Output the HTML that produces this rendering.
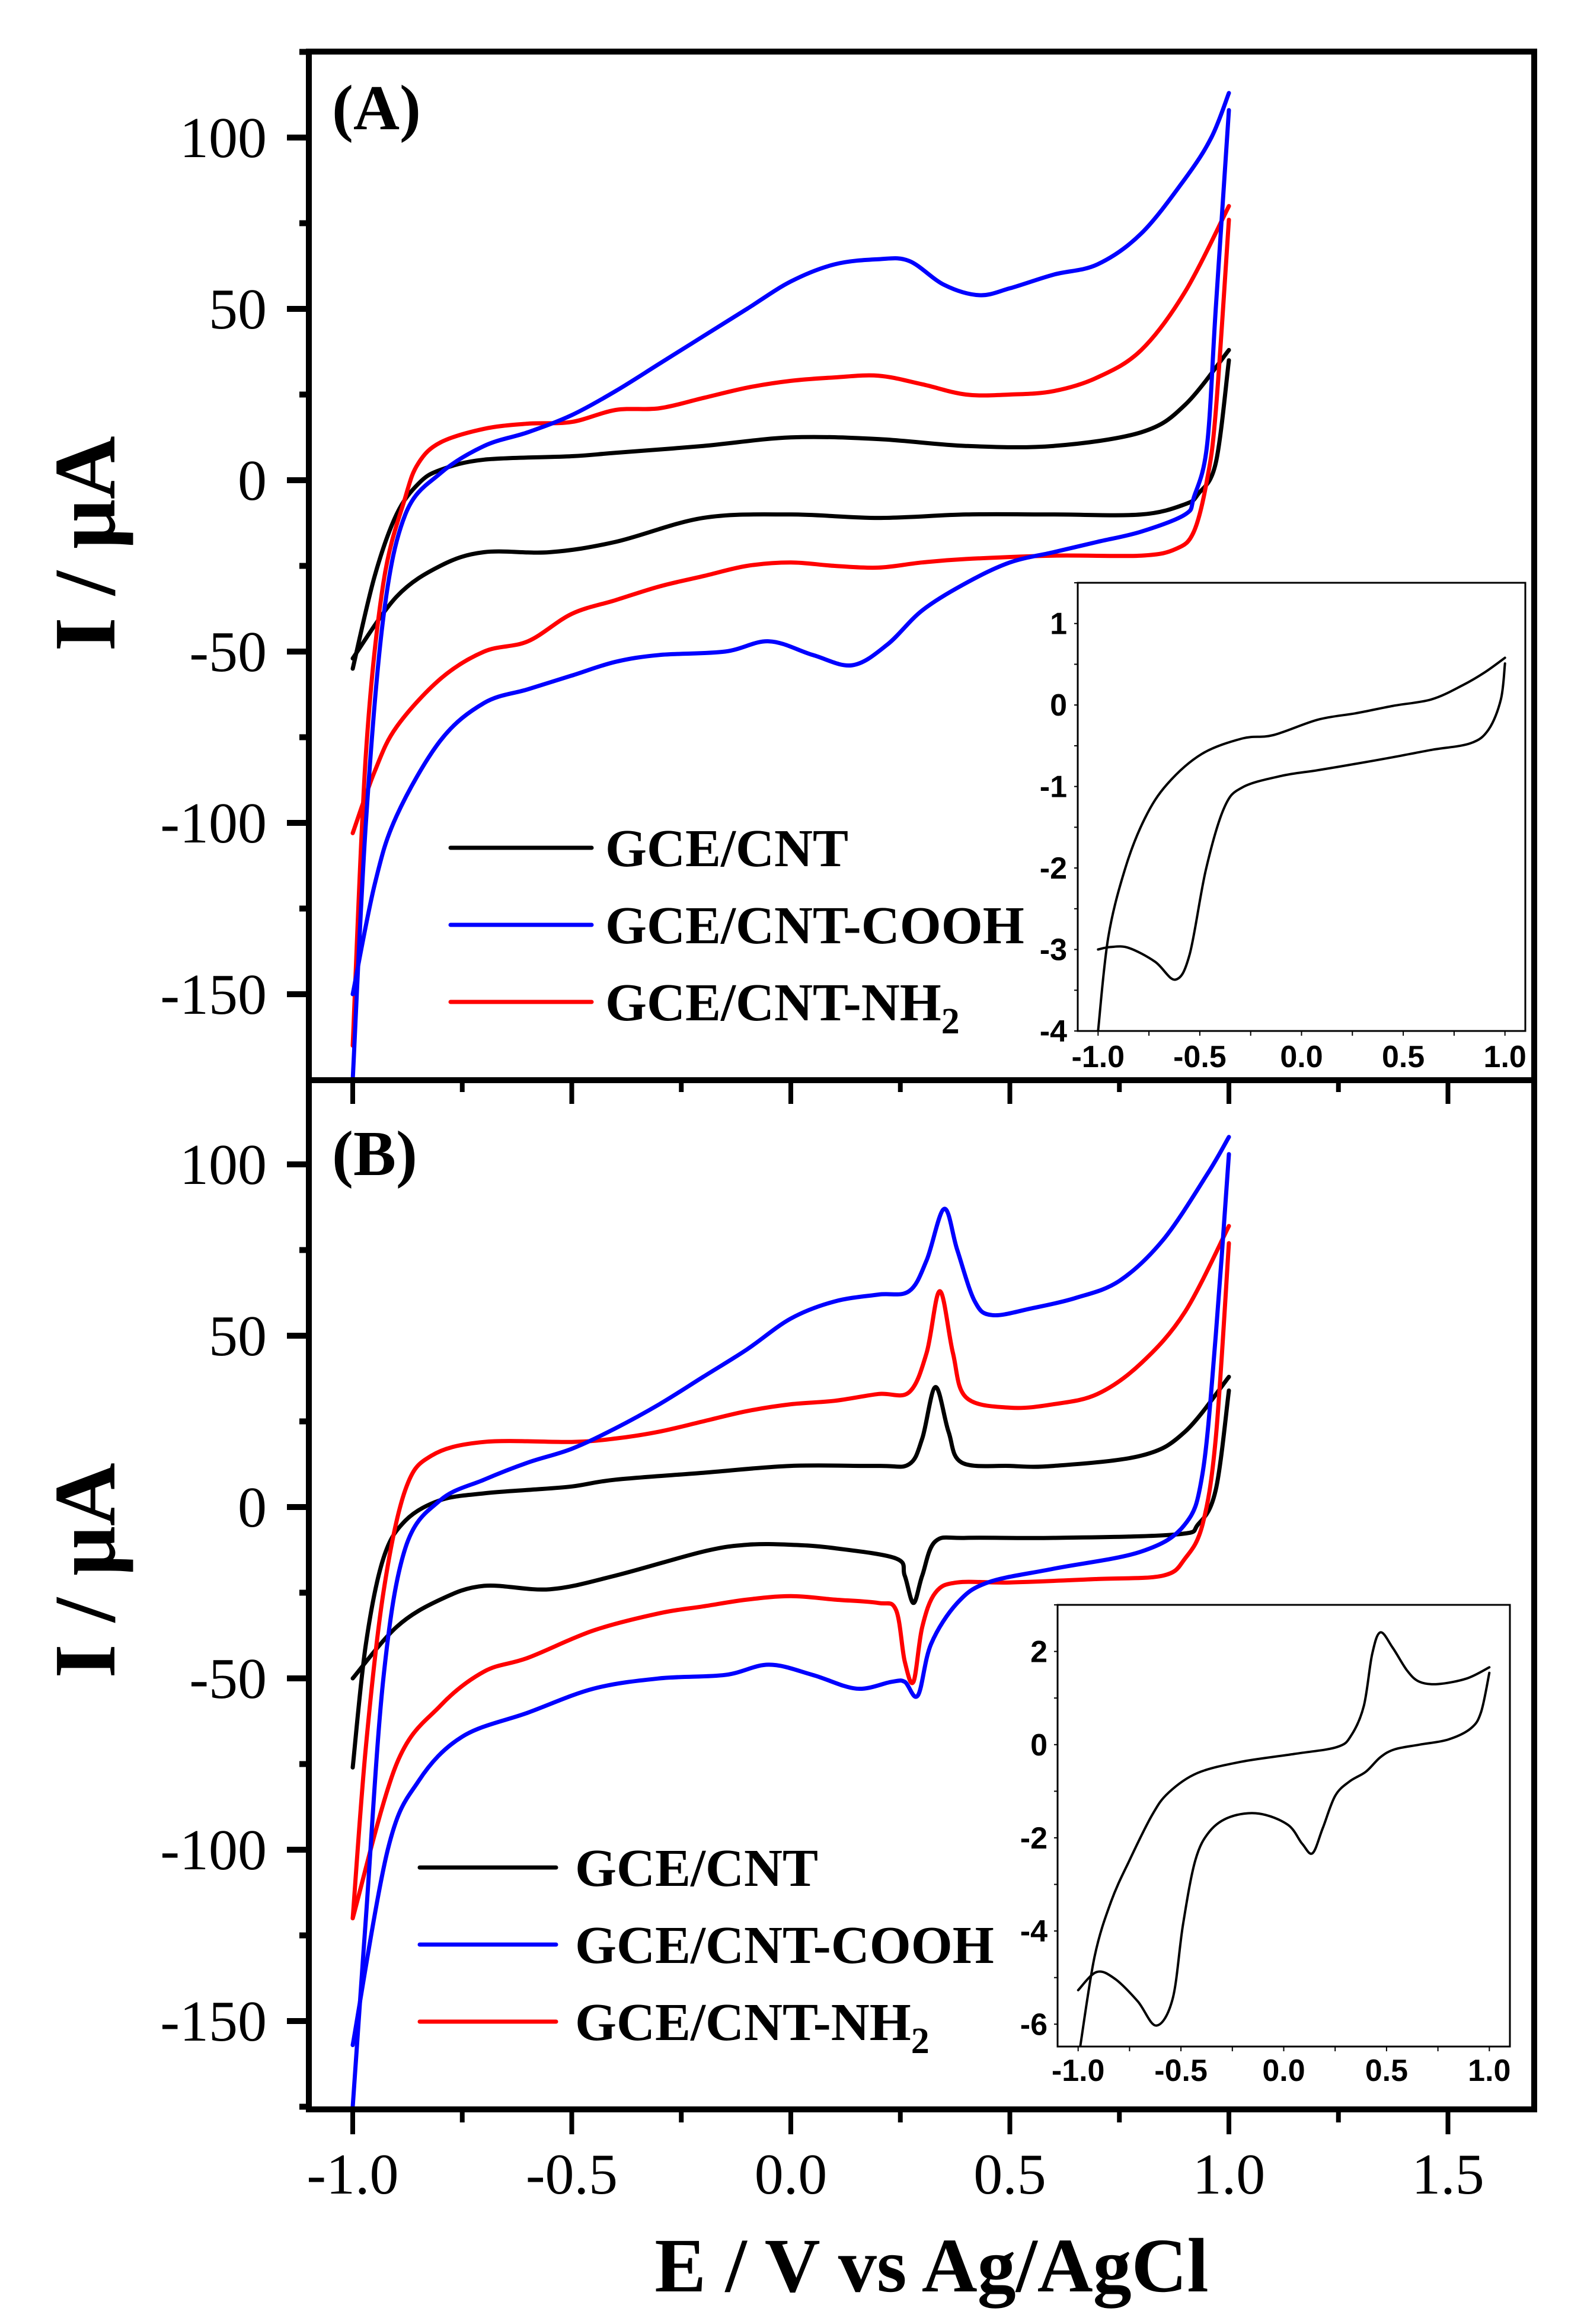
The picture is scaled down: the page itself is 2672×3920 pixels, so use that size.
<!DOCTYPE html>
<html><head><meta charset="utf-8"><style>
html,body{margin:0;padding:0;background:#fff;}
svg{display:block;}
</style></head><body>
<svg id="fig" width="2672" height="3920" viewBox="0 0 2672 3920" xmlns="http://www.w3.org/2000/svg"></svg>
<script>
// ---------- data (E in V, I in µA) ----------
const blackA_E=[-1.0,-0.95,-0.9,-0.85,-0.8,-0.7,-0.5,-0.4,-0.2,0,0.2,0.4,0.6,0.8,0.9,1.0, 1.0,0.97,0.93,0.9,0.8,0.6,0.4,0.2,0,-0.2,-0.4,-0.55,-0.7,-0.8,-0.9,-1.0];
const blackA_I=[-55,-28,-10,-1,3,6,7,8,10,12.5,12,10,10,14,22,38, 35,5,-4,-7,-10,-10,-10,-11,-10,-11,-18,-21,-21,-25,-34,-52];
const blueA_E=[-1.0,-0.97,-0.93,-0.88,-0.8,-0.7,-0.6,-0.5,-0.4,-0.3,-0.2,-0.1,0,0.1,0.2,0.27,0.35,0.43,0.5,0.6,0.7,0.8,0.9,0.96,1.0, 1.0,0.97,0.95,0.92,0.9,0.8,0.7,0.6,0.5,0.4,0.3,0.22,0.14,0.05,-0.05,-0.15,-0.3,-0.4,-0.5,-0.6,-0.7,-0.8,-0.9,-0.95,-1.0];
const blueA_I=[-175,-100,-40,-10,2,10,14,19,26,34,42,50,58,63,64.5,64,57,54,56,60,63,72,88,100,113, 108,50,10,-5,-10,-15,-18,-21,-24,-30,-38,-48,-54,-51,-47,-50,-51,-53,-57,-61,-65,-76,-98,-118,-150];
const redA_E=[-1.0,-0.97,-0.93,-0.88,-0.85,-0.8,-0.7,-0.6,-0.5,-0.4,-0.3,-0.2,-0.1,0,0.1,0.2,0.3,0.4,0.5,0.6,0.7,0.8,0.9,1.0, 1.0,0.97,0.95,0.92,0.88,0.8,0.6,0.4,0.3,0.2,0.1,0,-0.1,-0.2,-0.3,-0.4,-0.5,-0.6,-0.7,-0.8,-0.9,-0.95,-1.0];
const redA_I=[-165,-80,-30,-5,5,11,15,16.5,17,20.5,21,24,27,29,30,30.5,28,25,25,26,30,38,55,80, 76,20,0,-15,-20,-22,-22,-23,-24,-25.5,-25,-24,-25,-28,-31,-35,-39,-47,-50,-58,-72,-85,-103];

const blackB_E=[-1.0,-0.97,-0.93,-0.88,-0.8,-0.7,-0.6,-0.5,-0.4,-0.2,0,0.2,0.27,0.3,0.33,0.36,0.39,0.5,0.6,0.8,0.9,1.0, 1.0,0.97,0.93,0.88,0.6,0.4,0.33,0.3,0.28,0.26,0.24,0.1,0,-0.1,-0.2,-0.4,-0.55,-0.7,-0.8,-0.9,-1.0];
const blackB_I=[-76,-40,-15,-4,2,4,5,6,8,10,12,12,12.5,20,35,22,13,12,12,15,22,38, 34,5,-5,-8,-9,-9,-10,-20,-28,-20,-15,-12,-11,-11,-13,-20,-24,-23,-27,-35,-50];
const blueB_E=[-1.0,-0.97,-0.93,-0.88,-0.8,-0.7,-0.6,-0.5,-0.4,-0.3,-0.2,-0.1,0,0.1,0.2,0.27,0.31,0.35,0.38,0.42,0.46,0.55,0.65,0.75,0.85,0.95,1.0, 1.0,0.97,0.94,0.9,0.8,0.6,0.45,0.38,0.32,0.29,0.26,0.23,0.15,0.05,-0.05,-0.15,-0.3,-0.45,-0.6,-0.75,-0.85,-0.92,-1.0];
const blueB_I=[-175,-120,-50,-12,2,8,13,17,23,30,38,46,55,60,62,63,72,87,75,60,56,58,61,66,78,97,108, 103,50,10,-5,-13,-18,-22,-28,-40,-55,-51,-51,-53,-49,-46,-49,-50,-53,-60,-67,-80,-100,-157];
const redB_E=[-1.0,-0.97,-0.93,-0.88,-0.82,-0.7,-0.5,-0.4,-0.3,-0.2,-0.1,0,0.1,0.2,0.27,0.31,0.34,0.37,0.4,0.5,0.6,0.7,0.8,0.9,1.0, 1.0,0.97,0.94,0.9,0.85,0.7,0.5,0.38,0.33,0.3,0.28,0.26,0.24,0.2,0.1,0,-0.1,-0.2,-0.3,-0.45,-0.6,-0.7,-0.8,-0.9,-1.0];
const redB_I=[-120,-70,-25,5,15,19,19,20,22,25,28,30,31,33,33.5,45,63,45,32,29,30,33,42,57,82, 77,20,-5,-15,-20,-21,-22,-22,-25,-35,-51,-45,-30,-28,-27,-26,-27,-29,-31,-36,-44,-48,-58,-75,-120];

const insetA_E=[-1.0,-0.95,-0.866,-0.77,-0.66,-0.49,-0.29,-0.14,0.08,0.27,0.45,0.64,0.79,0.9,1.0, 1.0,0.98,0.92,0.83,0.64,0.45,0.27,0.08,-0.1,-0.29,-0.38,-0.47,-0.55,-0.62,-0.72,-0.85,-0.94,-1.0];
const insetA_I=[-4,-2.85,-2.0,-1.39,-0.97,-0.6,-0.41,-0.37,-0.18,-0.1,-0.01,0.07,0.24,0.4,0.58, 0.51,0.07,-0.3,-0.47,-0.55,-0.64,-0.72,-0.8,-0.87,-1.01,-1.26,-2.02,-3.06,-3.37,-3.15,-2.98,-2.97,-3.0];
const insetB_E=[-0.99,-0.92,-0.84,-0.75,-0.64,-0.56,-0.42,-0.21,0.05,0.26,0.33,0.39,0.43,0.47,0.53,0.6,0.66,0.75,0.89,1.0, 1.0,0.96,0.91,0.8,0.66,0.54,0.47,0.4,0.32,0.25,0.19,0.14,0.09,0.02,-0.12,-0.26,-0.36,-0.43,-0.49,-0.54,-0.62,-0.71,-0.82,-0.91,-1.0];
const insetB_I=[-6.48,-4.55,-3.37,-2.48,-1.51,-1.03,-0.61,-0.37,-0.2,-0.05,0.21,0.84,1.94,2.41,2.08,1.59,1.35,1.3,1.42,1.66, 1.54,0.7,0.35,0.11,0,-0.1,-0.27,-0.58,-0.79,-1.1,-1.79,-2.33,-2.13,-1.72,-1.48,-1.55,-1.86,-2.48,-3.86,-5.45,-6.03,-5.51,-5.03,-4.88,-5.27];

const mainYTicks=[100,50,0,-50,-100,-150];
const mainYLabels=["100","50","0","-50","-100","-150"];
const mainXTicks=[-1.0,-0.5,0.0,0.5,1.0,1.5];
const mainXLabels=["-1.0","-0.5","0.0","0.5","1.0","1.5"];
const legendNames=["GCE/CNT","GCE/CNT-COOH","GCE/CNT-NH"];
const insetXTicks=[-1.0,-0.5,0.0,0.5,1.0];
const insetXLabels=["-1.0","-0.5","0.0","0.5","1.0"];
const insetAYTicks=[1,0,-1,-2,-3,-4];
const insetBYTicks=[2,0,-2,-4,-6];

// ---------- helpers ----------
const NS="http://www.w3.org/2000/svg";
const svg=document.getElementById('fig');
function mk(tag,attrs,parent){const e=document.createElementNS(NS,tag);for(const k in attrs)e.setAttribute(k,attrs[k]);(parent||svg).appendChild(e);return e;}
function smoothPath(pts){
  let d=`M${pts[0][0].toFixed(1)},${pts[0][1].toFixed(1)}`;
  for(let i=0;i<pts.length-1;i++){
    const p0=pts[Math.max(0,i-1)],p1=pts[i],p2=pts[i+1],p3=pts[Math.min(pts.length-1,i+2)];
    const t=6;
    const c1=[p1[0]+(p2[0]-p0[0])/t,p1[1]+(p2[1]-p0[1])/t];
    const c2=[p2[0]-(p3[0]-p1[0])/t,p2[1]-(p3[1]-p1[1])/t];
    d+=` C${c1[0].toFixed(1)},${c1[1].toFixed(1)} ${c2[0].toFixed(1)},${c2[1].toFixed(1)} ${p2[0].toFixed(1)},${p2[1].toFixed(1)}`;
  }
  return d;
}
const serif='"Liberation Serif", serif';
const sans='"Liberation Sans", Arial, sans-serif';

const L=521,R=2588,T=87,MID=1822,B=3558;
const xMain=v=>595+(v+1)*739;
const yA=v=>810-v*5.78;
const yB=v=>2542-v*5.78;

const defs=mk('defs',{});
const cA=mk('clipPath',{id:'clipA'},defs);mk('rect',{x:L,y:T,width:R-L,height:MID-T},cA);
const cB=mk('clipPath',{id:'clipB'},defs);mk('rect',{x:L,y:MID,width:R-L,height:B-MID},cB);

function drawSeries(E,I,xf,yf,color,width,clip,name,parent){
  // split into forward / reverse branch at turnaround (max E)
  let split=E.length;
  for(let i=1;i<E.length;i++){ if(E[i]<=E[i-1] && E[i-1]===Math.max(...E)){split=i;break;} if(E[i]===E[i-1]){split=i;break;} }
  const pts=E.map((e,i)=>[xf(e),yf(I[i])]);
  const branches=[pts.slice(0,split),pts.slice(split)].filter(b=>b.length>1);
  const g=mk('g',{},parent);
  
  
  branches.forEach(b=>{
    const p=mk('path',{d:smoothPath(b),fill:'none',stroke:color,'stroke-width':width,'stroke-linejoin':'round','stroke-linecap':'round'},g);
    if(clip)p.setAttribute('clip-path',`url(#${clip})`);
  });
  return g;
}

const gA=mk('g',{});


drawSeries(blackA_E,blackA_I,xMain,yA,'#000',7,'clipA','series-gce-cnt-a',gA);
drawSeries(redA_E,redA_I,xMain,yA,'#ff0000',7,'clipA','series-gce-cnt-nh2-a',gA);
drawSeries(blueA_E,blueA_I,xMain,yA,'#0000ff',7,'clipA','series-gce-cnt-cooh-a',gA);

const gB=mk('g',{});


drawSeries(blackB_E,blackB_I,xMain,yB,'#000',7,'clipB','series-gce-cnt-b',gB);
drawSeries(redB_E,redB_I,xMain,yB,'#ff0000',7,'clipB','series-gce-cnt-nh2-b',gB);
drawSeries(blueB_E,blueB_I,xMain,yB,'#0000ff',7,'clipB','series-gce-cnt-cooh-b',gB);

const fr=mk('g',{stroke:'#000','stroke-width':10,fill:'none'});


mk('rect',{x:L,y:T,width:R-L,height:B-T},fr);
mk('line',{x1:L,y1:MID,x2:R,y2:MID},fr);

function yAxis(yf,panel){
  const g=mk('g',{});
  
  
  for(let v=-175;v<=125;v+=25){
    const y=yf(v);
    if(y<T-1||y>B+1) continue;
    if(panel==='a'&&y>MID-4)continue;
    if(panel==='b'&&y<MID+4)continue;
    const major=(v%50===0);
    mk('line',{x1:L,x2:L-(major?37:16),y1:y,y2:y,stroke:'#000','stroke-width':10},g);
  }
  mainYTicks.forEach((v,i)=>{
    const t=mk('text',{x:450,y:yf(v)+33,'text-anchor':'end','font-family':serif,'font-size':98,fill:'#000'},g);
    t.textContent=mainYLabels[i];
    
    
  });
}
yAxis(yA,'a');yAxis(yB,'b');

const xg=mk('g',{});


for(let v=-1;v<=1.51;v+=0.25){
  const x=xMain(v);const major=Math.abs(v*2-Math.round(v*2))<1e-6;
  mk('line',{x1:x,x2:x,y1:MID,y2:MID+(major?40:20),stroke:'#000','stroke-width':8},xg);
  mk('line',{x1:x,x2:x,y1:B,y2:B+(major?42:22),stroke:'#000','stroke-width':8},xg);
}
mainXTicks.forEach((v,i)=>{
  const t=mk('text',{x:xMain(v),y:3700,'text-anchor':'middle','font-family':serif,'font-size':98,fill:'#000'},xg);
  t.textContent=mainXLabels[i];
  
  
});

let t=mk('text',{x:(1093+2050)/2,y:3865,'text-anchor':'middle','font-family':serif,'font-weight':'bold','font-size':130,fill:'#000'});
t.textContent='E / V vs Ag/AgCl';


[[917,'a'],[2649,'b']].forEach(([cy,p])=>{
  const tt=mk('text',{x:0,y:0,transform:`translate(193,${cy}) rotate(-90)`,'text-anchor':'middle','font-family':serif,'font-weight':'bold','font-size':148,fill:'#000'});
  tt.textContent='I / μA';
  
  
});

t=mk('text',{x:560,y:218,'font-family':serif,'font-weight':'bold','font-size':108,fill:'#000'});t.textContent='(A)';


t=mk('text',{x:560,y:1982,'font-family':serif,'font-weight':'bold','font-size':108,fill:'#000'});t.textContent='(B)';



const colors=['#000','#0000ff','#ff0000'];
function legend(x1,x2,tx,ys,panel){
  const g=mk('g',{});
  
  
  legendNames.forEach((n,i)=>{
    const ln=mk('line',{x1:x1,x2:x2,y1:ys[i],y2:ys[i],stroke:colors[i],'stroke-width':7,'stroke-linecap':'round'},g);
    
    
    const tx1=mk('text',{x:tx,y:ys[i]+31,'font-family':serif,'font-weight':'bold','font-size':90,fill:'#000'},g);
    tx1.textContent=n;
    if(i===2){const s=mk('tspan',{'font-size':62,dy:22},tx1);s.textContent='2';}
    
    
  });
}
legend(760,998,1021,[1430,1560,1690],'a');
legend(708,938,970,[3150,3280,3410],'b');

function inset(box,yMin,yMax,E,I,yTicks,yMinorStep,lblRight,xLblY,panel){
  const g=mk('g',{});
  
  
  const xf=v=>box.l+(v+1.1)/2.2*(box.r-box.l);
  const yf=v=>box.b-(v-yMin)/(yMax-yMin)*(box.b-box.t);
  const cid='clipI'+panel;
  const cp=mk('clipPath',{id:cid},defs);mk('rect',{x:box.l,y:box.t,width:box.r-box.l,height:box.b-box.t},cp);
  drawSeries(E,I,xf,yf,'#000',4,cid,'inset-series-'+panel,g);
  mk('rect',{x:box.l,y:box.t,width:box.r-box.l,height:box.b-box.t,fill:'none',stroke:'#000','stroke-width':3},g);
  for(let v=-1;v<=1.001;v+=0.25){mk('line',{x1:xf(v),x2:xf(v),y1:box.b,y2:box.b+8,stroke:'#000','stroke-width':2},g);}
  for(let v=Math.ceil(yMin/yMinorStep)*yMinorStep;v<=yMax+1e-6;v+=yMinorStep){mk('line',{x1:box.l,x2:box.l-6,y1:yf(v),y2:yf(v),stroke:'#000','stroke-width':2},g);}
  insetXTicks.forEach((v,i)=>{const tt=mk('text',{x:xf(v),y:xLblY,'text-anchor':'middle','font-family':sans,'font-weight':'bold','font-size':52,fill:'#000'},g);tt.textContent=insetXLabels[i];
    
    });
  yTicks.forEach(v=>{const tt=mk('text',{x:lblRight,y:yf(v)+18,'text-anchor':'end','font-family':sans,'font-weight':'bold','font-size':52,fill:'#000'},g);tt.textContent=String(v);
    
    });
}
inset({l:1818,r:2573,t:983,b:1739},-4,1.5,insetA_E,insetA_I,insetAYTicks,0.5,1800,1800,'a');
inset({l:1784,r:2547,t:2707,b:3452},-6.48,3.0,insetB_E,insetB_I,insetBYTicks,1,1767,3510,'b');
</script>
</body></html>
